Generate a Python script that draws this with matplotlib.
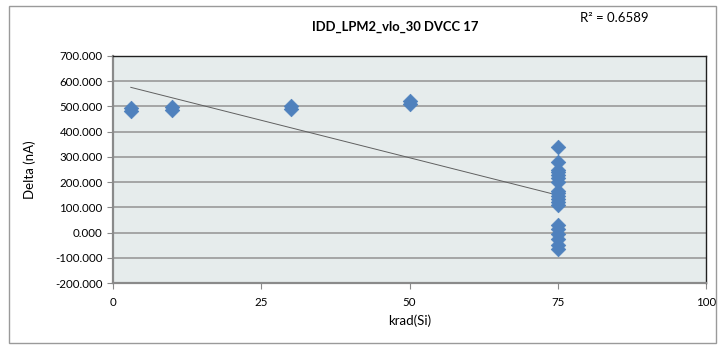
import numpy as np
import matplotlib
matplotlib.use('Agg')
import matplotlib.pyplot as plt
from matplotlib.patches import Rectangle

# dose (krad(Si)) and delta current (nA)
dose = [3, 3, 10, 10, 30, 30, 50, 50,
        75, 75, 75, 75, 75, 75, 75, 75, 75, 75, 75, 75, 75, 75, 75, 75, 75, 75, 75]
delta = [495, 482, 497, 485, 502, 490, 520, 510,
         338, 280, 240, 228, 215, 200, 165, 155, 145, 132, 120, 108,
         30, 15, -5, -25, -48, -65, 250]

title = 'IDD_LPM2_vlo_30 DVCC 17'
r2_text = 'R² = 0.6589'
yticks = [-200, -100, 0, 100, 200, 300, 400, 500, 600, 700]
xticks = [0, 25, 50, 75, 100]

plt.rcParams['font.family'] = ['Lato', 'DejaVu Sans']

fig = plt.figure(figsize=(7.19, 3.51), dpi=100)
fig.patches.append(Rectangle((9 / 719, 1 - 343 / 351), 707 / 719, 337 / 351,
                             transform=fig.transFigure, fill=False,
                             edgecolor='#9a9a9a', linewidth=1.0))

ax = fig.add_axes([113 / 719, 1 - 283 / 351, 593 / 719, 227 / 351])
ax.set_facecolor('#e6ecec')

ax.set_xlim(0, 100)
ax.set_ylim(-200, 700)
ax.set_xticks(xticks)
ax.set_yticks(yticks)
ax.set_yticklabels(['%.3f' % v for v in yticks])
ax.grid(axis='y', color='#9a9a9a', linewidth=1.2)
ax.set_axisbelow(True)

# linear trendline over the data range
coef = np.polyfit(dose, delta, 1)
xs = np.array([min(dose), max(dose)])
ax.plot(xs, np.polyval(coef, xs), color='#606060', linewidth=0.7, zorder=2)

ax.scatter(dose, delta, marker='D', s=55, color='#4f81bd', edgecolors='#4f81bd',
           linewidths=0.5, zorder=3)

for s in ['top', 'right']:
    ax.spines[s].set_color('#202020')
    ax.spines[s].set_linewidth(1.0)
for s in ['left', 'bottom']:
    ax.spines[s].set_color('#8a8a8a')
    ax.spines[s].set_linewidth(1.6)

ax.tick_params(axis='both', direction='out', length=4, color='#8a8a8a',
               labelsize=8.3, labelcolor='black')
ax.tick_params(axis='x', pad=6)

ax.set_xlabel('krad(Si)', fontsize=9.5, labelpad=5)
ax.set_ylabel('Delta (nA)', fontsize=9.5, labelpad=14)

fig.text(395 / 719, 1 - 27 / 351, title, ha='center', va='center',
         fontsize=9.4, fontweight='bold')
fig.text(580 / 719, 1 - 18 / 351, r2_text, ha='left', va='center', fontsize=9.5)

fig.savefig('out.png', dpi=100)
